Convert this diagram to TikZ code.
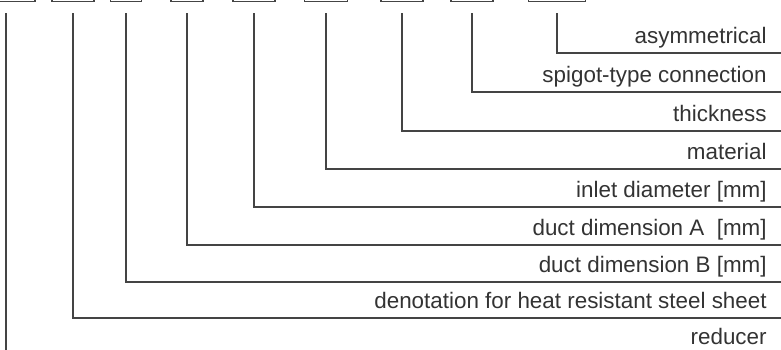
\documentclass[tikz,border=0pt]{standalone}
\usepackage{fontspec}
\setmainfont{Liberation Sans}
\usepackage{xcolor}
\usepackage{tikz}
\definecolor{ink}{HTML}{333333}
\definecolor{rule}{HTML}{444444}
\tikzset{
  codebox/.style={draw=rule, line width=0.6pt, inner sep=0pt, outer sep=0pt,
    minimum height=11.5pt},
  leader/.style={draw=rule, line width=0.6pt},
  fieldlabel/.style={anchor=base east, inner sep=0pt, text=ink,
    font=\fontsize{11.2}{13}\selectfont}
}
\newcommand{\codefield}[5]{%
  \node[codebox, minimum width=#3*0.5pt] (box#1) at (#2, -10) {};
  \coordinate (top#1) at ([yshift=-5.75pt]box#1.south);
  \coordinate (end#1) at (781, #4);
  \node[fieldlabel] (lab#1) at (767, #4-10) {#5};
  \draw[leader] (top#1) |- (end#1);}

\begin{document}
\begin{tikzpicture}[x=0.5pt, y=-0.5pt]
\useasboundingbox (0,0) rectangle (781,349);

% first field: plain vertical down to the bottom
\node[codebox, minimum width=58*0.5pt] (box0) at (6, -10) {};
\coordinate (top0) at ([yshift=-5.75pt]box0.south);
\coordinate (bot0) at (6, 352);
\node[fieldlabel] (lab0) at (767, 344) {reducer};
\draw[leader] (top0) -- (bot0);

\codefield{1}{73}{42}{318}{denotation for heat resistant steel sheet}
\codefield{2}{126}{31}{282}{duct dimension B [mm]}
\codefield{3}{187}{32}{245}{duct dimension A\ \ [mm]}
\codefield{4}{254}{42}{207}{inlet diameter [mm]}
\codefield{5}{326}{43}{169}{material}
\codefield{6}{402}{42}{131}{thickness}
\codefield{7}{472}{42}{92}{spigot-type connection}
\codefield{8}{557}{57}{53}{asymmetrical}

\end{tikzpicture}
\end{document}
